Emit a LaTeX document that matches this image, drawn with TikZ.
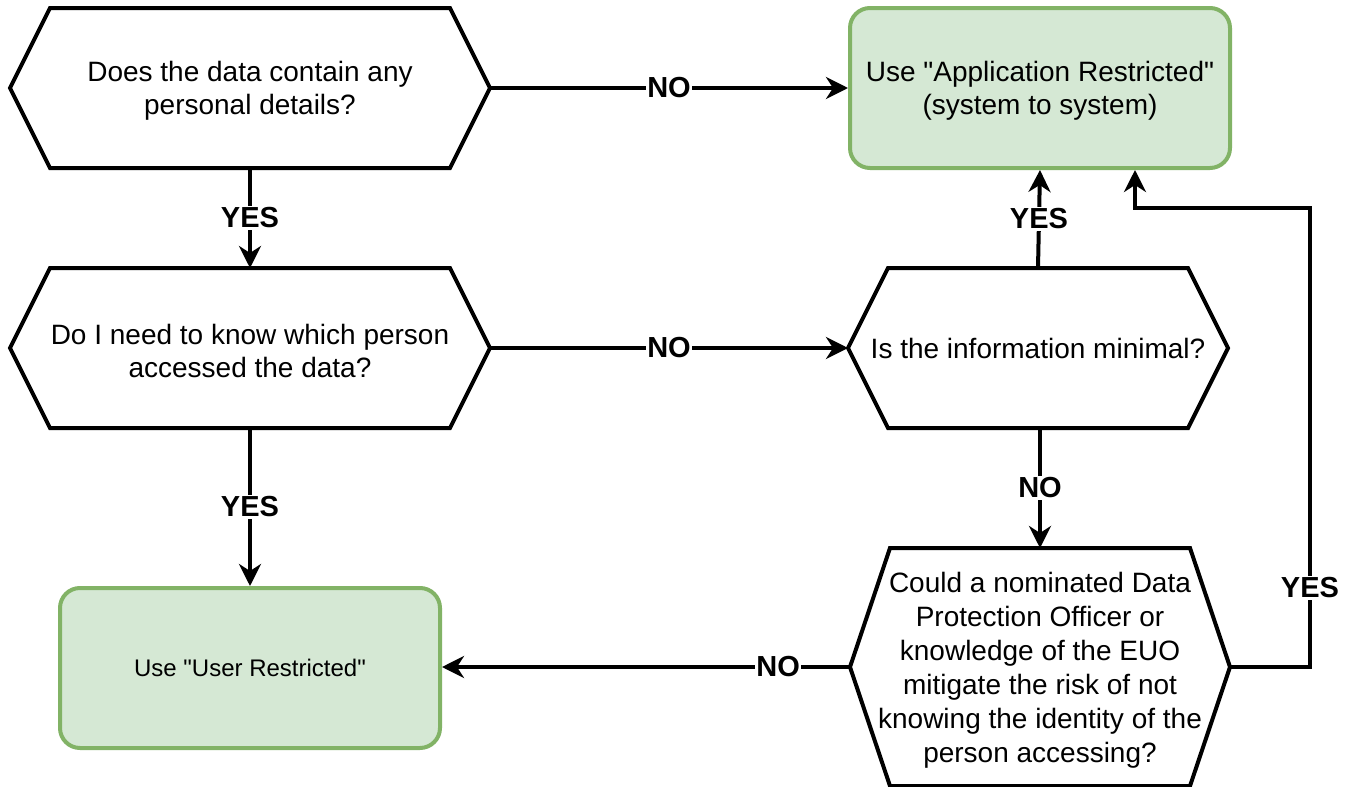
\documentclass[tikz,border=0pt]{standalone}
\usepackage{fontspec}
\setmainfont{Liberation Sans}[Ligatures=TeXOff]
\usetikzlibrary{arrows.meta}
\definecolor{okfill}{HTML}{D5E8D4}
\definecolor{okline}{HTML}{82B366}
% strut that lowers a multi-line block a little
\newcommand{\lowstrut}{\rule{0pt}{26pt}}
\begin{document}
\begin{tikzpicture}[x=1pt,y=-1pt,
  every node/.style={outer sep=0pt},
  question/.style={rectangle, inner sep=0pt, align=center,
    font=\fontsize{28}{33.5}\selectfont},
  outcome/.style={rectangle, rounded corners=20pt, draw=okline, fill=okfill,
    line width=4pt, inner sep=0pt, align=center, outer sep=2pt,
    minimum width=380pt, minimum height=160pt},
  hexline/.style={draw=black, line width=4pt, line join=miter},
  flow/.style={draw=black, line width=4pt,
    -{Stealth[length=22pt,width=22pt,inset=7pt]}},
  answer/.style={fill=white, inner sep=1.5pt, text=black,
    font=\fontsize{29}{30}\selectfont\bfseries}
]
\useasboundingbox (0,0) rectangle (1350,787);

% decision and outcome nodes
\node[question, minimum width=480pt, minimum height=160pt] (h1) at (250,88)
  {\lowstrut Does the data contain any\\personal details?};
\node[outcome, font=\fontsize{28}{33.5}\selectfont] (b1) at (1040,88)
  {\lowstrut Use "Application Restricted"\\(system to system)};
\node[question, minimum width=480pt, minimum height=160pt] (h2) at (250,348)
  {\lowstrut Do I need to know which person\\accessed the data?};
\node[question, minimum width=380pt, minimum height=160pt] (h3) at (1038,348)
  {Is the information minimal?};
\node[outcome, font=\fontsize{24}{28}\selectfont] (b2) at (250,668)
  {Use "User Restricted"};
\node[question, minimum width=380pt, minimum height=238pt,
  font=\fontsize{28}{34}\selectfont] (h4) at (1040,667)
  {\lowstrut Could a nominated Data\\Protection Officer or\\knowledge of the EUO\\mitigate the risk of not\\knowing the identity of the\\person accessing?};

% hexagon outlines around the decision nodes
\foreach \n in {h1,h2,h3,h4}{
  \draw[hexline] (\n.west) -- ([xshift=40pt]\n.north west)
    -- ([xshift=-40pt]\n.north east) -- (\n.east)
    -- ([xshift=-40pt]\n.south east) -- ([xshift=40pt]\n.south west) -- cycle;
}

% connectors
\draw[flow] (h1.east) -- node[answer, midway] (l1) {NO} (b1.west);
\draw[flow] (h1.south) -- node[answer, midway] (l2) {YES} (h2.north);
\draw[flow] (h2.east) -- node[answer, midway] (l3) {NO} (h3.west);
\draw[flow] (h2.south) -- node[answer, midway] (l4) {YES} (b2.north);
\draw[flow] (h3.north) -- node[answer, midway] (l5) {YES} (b1.south);
\draw[flow] (h4.north |- h3.south) -- node[answer, midway] (l6) {NO} (h4.north);
\draw[flow] (h4.west) -- node[answer, pos=0.176] (l7) {NO} (b2.east |- h4.west);
\coordinate (turn) at (1310,208);
\draw[flow] (h4.east) -| (turn) -| ([xshift=95pt]b1.south);
\node[answer] (l8) at (1310,588) {YES};
\end{tikzpicture}
\end{document}
